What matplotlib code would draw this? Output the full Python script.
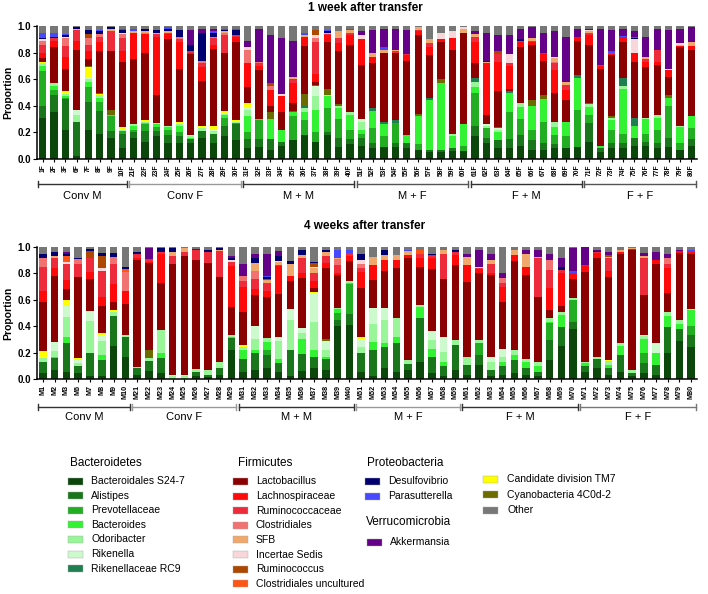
import numpy as np
import matplotlib
matplotlib.use('Agg')
import matplotlib.pyplot as plt
from matplotlib.patches import Rectangle
import matplotlib.transforms as mtransforms

plt.rcParams['font.family'] = ['Liberation Sans', 'DejaVu Sans']

# ---- sample labels ----
week1_labels = ['1F', '2F', '3F', '6F', '7F', '8F', '9F', '10F',
                '21F', '22F', '23F', '24F', '25F', '26F', '27F', '28F', '29F', '30F',
                '31F', '32F', '33F', '34F', '35F', '36F', '37F', '38F', '39F', '40F',
                '51F', '52F', '53F', '54F', '55F', '56F', '57F', '58F', '59F', '60F',
                '61F', '62F', '63F', '64F', '65F', '66F', '67F', '68F', '69F', '70F',
                '71F', '72F', '73F', '74F', '75F', '76F', '77F', '78F', '79F', '80F']
week4_labels = ['M1', 'M2', 'M3', 'M6', 'M7', 'M8', 'M9', 'M10',
                'M21', 'M22', 'M23', 'M24', 'M25', 'M26', 'M27', 'M28', 'M29',
                'M31', 'M32', 'M33', 'M34', 'M35', 'M36', 'M37', 'M38', 'M39', 'M40',
                'M51', 'M52', 'M53', 'M54', 'M55', 'M56', 'M57', 'M58', 'M59',
                'M61', 'M62', 'M63', 'M64', 'M65', 'M66', 'M67', 'M68', 'M69', 'M70',
                'M71', 'M72', 'M73', 'M74', 'M75', 'M76', 'M77', 'M78', 'M79', 'M80']

group_names = ['Conv M', 'Conv F', 'M + M', 'M + F', 'F + M', 'F + F']
week1_group_sizes = [8, 10, 10, 10, 10, 10]
week4_group_sizes = [8, 9, 10, 9, 10, 10]

# ---- taxa (stack order, bottom to top) ----
taxa = ['Bacteroidales S24-7', 'Alistipes', 'Prevotellaceae', 'Bacteroides', 'Odoribacter',
        'Rikenella', 'Rikenellaceae RC9', 'Candidate division TM7', 'Cyanobacteria 4C0d-2',
        'Lactobacillus', 'Lachnospiraceae', 'Ruminococcaceae', 'Clostridiales', 'SFB',
        'Incertae Sedis', 'Ruminococcus', 'Clostridiales uncultured', 'Desulfovibrio',
        'Parasutterella', 'Akkermansia', 'Other']
colors = ['#0b460b', '#1a761a', '#22ad22', '#33f233', '#98f598', '#cdfacd', '#1f7f50',
          '#ffff00', '#6b6b00',
          '#8b0000', '#ff0a0a', '#ee2b3b', '#f27272', '#f0a86c', '#f8d6da', '#ae4800', '#ff5414',
          '#000070', '#4848ff', '#650088', '#777777']

# ---- 1 week after transfer ----
w1_s24 = [.31, .35, .22, .02, .22, .19, .16, .08,
          .16, .13, .17, .12, .12, .12, .16, .12, .17, .14,
          .08, .09, .07, .10, .14, .18, .13, .18, .09, .11,
          .10, .08, .09, .09, .08, .07, .05, .05, .06, .06,
          .17, .12, .08, .08, .10, .07, .07, .08, .08, .09,
          .13, .05, .08, .08, .10, .10, .08, .09, .07, .10]
w1_ali = [.09, .13, .23, .26, .21, .17, .05, .11,
          .04, .08, .04, .06, .05, .03, .05, .07, .08, .12,
          .07, .06, .08, .03, 0, 0, 0, .02, .07, .04,
          .06, .04, 0, .03, .04, 0, .02, .02, .02, 0,
          .08, .04, .06, .07, .08, .07, .05, .03, 0, 0,
          .14, .03, .04, .04, .06, .03, .04, .07, 0, .05]
w1_prev = [.26, .04, .01, 0, .11, .07, .11, .02,
           .02, .05, .03, .04, .03, 0, 0, 0, .06, .01,
           .05, .14, 0, 0, .18, .11, .07, .18, .14, .07,
           .03, .11, .08, .15, 0, .04, 0, 0, 0, .04,
           .25, .07, 0, .20, .12, .08, .16, .07, .09, .28,
           .06, 0, .10, .07, 0, .06, .10, .24, .05, .08]
w1_bact = [.04, .03, .01, 0, .04, .03, .01, 0,
           .03, .01, .02, .02, .05, .01, 0, 0, .02, 0,
           .12, .01, .15, .09, .03, .06, .17, .09, .08, .11,
           .03, .13, .09, 0, .06, .21, .37, .50, .09, .16,
           .04, 0, .06, .15, .09, .18, .17, .06, .11, .24,
           .06, .02, .07, .34, .09, .11, .09, .06, .12, .09]
w1_odo = [.02, .02, .02, .05, .02, .02, 0, .01,
          .01, .01, .01, .01, .01, .01, .02, .02, .01, .01,
          .05, 0, 0, 0, 0, .03, .10, .01, .02, .02,
          .06, 0, 0, 0, 0, 0, 0, 0, .02, 0,
          .04, .02, .02, 0, .03, 0, 0, .04, 0, 0,
          .02, 0, .02, .02, 0, .01, .02, 0, .01, .005]
w1_rik = [0, 0, 0, .04, .01, 0, 0, 0,
          0, 0, 0, 0, .01, 0, .01, .01, 0, 0,
          .02, 0, 0, 0, 0, 0, .08, 0, 0, 0,
          .02, 0, 0, 0, 0, 0, 0, 0, 0, 0,
          0, .01, .01, 0, 0, 0, 0, 0, 0, 0,
          0, 0, 0, 0, 0, 0, 0, 0, 0, 0]
w1_rc9 = [0, 0, 0, 0, 0, 0, 0, 0,
          0, 0, 0, 0, 0, 0, 0, 0, 0, 0,
          0, 0, 0, 0, .01, .02, .01, 0, 0, 0,
          0, .02, .02, .02, 0, 0, .02, 0, 0, 0,
          .03, 0, 0, .01, 0, 0, 0, 0, 0, .02,
          0, 0, 0, .06, .06, 0, 0, 0, 0, 0]
w1_tm7 = [.01, 0, .02, 0, .08, .01, 0, .02,
          0, .01, 0, 0, .01, .01, .01, .03, .02, .01,
          .03, 0, 0, 0, 0, 0, 0, 0, 0, 0,
          0, 0, 0, 0, 0, 0, 0, 0, 0, 0,
          0, 0, 0, 0, 0, 0, 0, 0, 0, 0,
          0, 0, 0, 0, 0, 0, 0, 0, 0, 0]
w1_cyano = [0, 0, 0, 0, .01, .01, .04, 0,
            0, 0, 0, 0, 0, 0, 0, 0, 0, 0,
            0, 0, .05, 0, 0, .09, 0, .05, .01, 0,
            0, 0, 0, 0, 0, .02, 0, .03, 0, 0,
            0, 0, .01, 0, 0, .04, .03, 0, 0, 0,
            .01, 0, .01, 0, 0, 0, 0, .02, 0, 0]
w1_lacto = [.03, .27, .17, .45, .05, .31, .44, .49,
            .49, .51, .21, .65, .40, .61, .34, .58, .44, .59,
            .12, .37, .05, .13, .06, .36, .02, .35, .40, .51,
            .41, .34, .52, .51, .56, .59, .32, .28, .63, .69,
            .11, .07, .27, .02, .42, .42, .26, .22, .165, .26,
            .44, .58, .46, .275, .42, .38, .38, .14, .59, .495]
w1_lachno = [.04, .05, .09, .07, .06, .07, 0, .08,
             .20, .14, .44, .04, .20, .01, .10, .03, 0, .04,
             .18, .03, .12, .12, .15, .07, .06, .05, .06, .07,
             .19, .05, 0, 0, .04, .03, .06, .02, .09, 0,
             .16, .39, .22, .17, .04, .02, .05, .17, .075, .025,
             .07, .02, .01, .035, .07, .04, .02, .05, .01, .03]
w1_rumino = [.06, .02, .08, .08, .05, .04, .15, .10,
             0, 0, .02, .01, .02, .01, .03, .05, .13, .01,
             0, .02, 0, 0, .03, 0, .24, .01, .04, .02,
             0, 0, 0, .01, .01, .01, .03, 0, 0, 0,
             .04, 0, .06, .02, .01, .01, 0, .05, .035, 0,
             .02, .01, .01, 0, 0, .02, .09, 0, 0, 0]
w1_clos = [.03, 0, .06, 0, .05, .02, 0, .03,
           0, .01, 0, 0, .02, 0, .02, .01, .02, 0,
           .10, .01, .03, 0, 0, 0, .03, 0, 0, 0,
           0, 0, 0, 0, 0, 0, 0, 0, 0, 0,
           0, 0, 0, 0, 0, 0, 0, .01, 0, 0,
           0, 0, 0, 0, 0, 0, 0, 0, 0, 0]
w1_sfb = [0, 0, 0, .01, 0, 0, .02, 0,
          .01, .01, .01, .01, 0, 0, 0, 0, .01, 0,
          0, 0, 0, 0, .02, .01, 0, .01, .05, .02,
          0, .03, .02, .01, 0, .02, .03, 0, 0, .03,
          .02, .01, 0, 0, 0, .02, 0, .03, .025, 0,
          .01, 0, 0, 0, 0, .02, 0, 0, .01, .03]
w1_inc = [.01, 0, .01, 0, 0, 0, 0, .01,
          0, 0, 0, 0, 0, 0, 0, 0, 0, 0,
          .02, 0, 0, .02, 0, 0, .02, 0, 0, 0,
          .03, 0, 0, 0, 0, 0, 0, .05, .05, .01,
          0, 0, 0, .07, 0, 0, 0, .01, 0, 0,
          .01, 0, 0, 0, .10, 0, 0, .01, .01, 0]
w1_rumcoc = [0, 0, 0, 0, .03, 0, 0, 0,
             0, 0, 0, 0, 0, 0, 0, 0, 0, 0,
             0, 0, .02, 0, 0, 0, .04, 0, 0, 0,
             0, 0, 0, 0, 0, 0, 0, 0, 0, 0,
             0, 0, .02, 0, 0, 0, 0, 0, 0, 0,
             0, 0, 0, 0, 0, 0, 0, 0, 0, 0]
w1_closu = [0] * 58
w1_desulfo = [.01, .01, .01, .01, .03, .02, .01, .02,
              0, .02, .02, .02, .05, .05, .21, .03, .01, .04,
              0, 0, 0, 0, 0, 0, 0, .01, 0, 0,
              0, 0, 0, 0, 0, 0, 0, 0, 0, 0,
              0, .01, 0, 0, .01, 0, 0, 0, 0, 0,
              0, 0, 0, 0, .01, 0, 0, 0, 0, 0]
w1_parasut = [.04, .03, .01, 0, 0, .01, 0, .01,
              .02, 0, 0, .01, 0, 0, 0, .01, .01, .01,
              0, 0, 0, 0, 0, .02, 0, .01, 0, .01,
              0, 0, .02, 0, 0, 0, 0, 0, 0, 0,
              0, 0, 0, 0, 0, 0, .01, 0, 0, 0,
              0, 0, .01, .01, .01, 0, 0, 0, 0, 0]
w1_akk = [0, 0, 0, 0, 0, 0, 0, 0,
          0, 0, 0, 0, 0, .11, .03, .02, 0, 0,
          .05, .25, .36, .42, .27, 0, 0, 0, 0, 0,
          .03, .17, .14, .16, .18, 0, 0, 0, 0, 0,
          .02, .21, .12, .14, .08, .08, .15, .19, .34, .06,
          .01, .27, .16, .055, .04, .15, .16, .29, .11, .115]
w1_other = [.05, .05, .06, .01, .03, .03, .01, .02,
            .02, .02, .03, .01, .03, .03, .02, .02, .02, .02,
            .11, .02, .07, .09, .11, .05, .03, .03, .04, .02,
            .04, .03, .02, .02, .03, .01, .10, .05, .04, .01,
            .04, .05, .07, .07, .02, .01, .05, .04, .08, .025,
            .02, .02, .03, .02, .04, .08, .02, .03, .02, .005]

# ---- 4 weeks after transfer ----
w4_s24 = [.045, .07, .055, .045, .02, .02, .25, .17,
          .03, .06, .045, 0, 0, .02, .015, .03, .22,
          .05, .07, .08, .05, .02, .06, .08, .07, .40, .41,
          .055, .02, .08, .055, .07, .13, .045, .02, .07,
          .03, .105, .02, .03, .045, .03, .02, .145, .25, .38,
          .05, .08, .03, .055, .02, .045, .03, .20, .29, .24]
w4_ali = [.085, .09, .215, .05, .18, .125, .23, .145,
          .05, .08, .115, 0, 0, .03, .015, .05, .09,
          .10, .13, .10, .07, .20, .13, .09, .08, .05, .085,
          .14, .20, .16, .22, .045, .33, .125, .075, .19,
          .075, .075, .05, .065, .10, .05, .035, .15, .145, .05,
          .045, .07, .05, .125, .025, .075, .075, .195, .09, .095]
w4_prev = [0, 0, 0, 0, 0, 0, 0, 0,
           0, 0, 0, 0, 0, 0, 0, 0, 0,
           0, 0, .04, 0, 0, 0, 0, 0, .05, .225,
           0, 0, 0, 0, 0, 0, 0, 0, 0,
           0, .09, 0, 0, 0, 0, 0, .13, 0, .17,
           0, 0, 0, 0, 0, .08, 0, 0, 0, .07]
w4_bact = [0, .01, .05, 0, 0, .035, 0, 0,
           0, 0, .035, 0, 0, 0, 0, 0, .01,
           .07, .02, .06, .03, 0, .11, .05, .02, .03, .01,
           0, .06, .03, .045, 0, .085, .06, .035, 0,
           0, 0, 0, .035, .035, .05, .045, .01, .09, 0,
           .025, 0, .025, .07, 0, .10, .09, .08, .04, .115]
w4_odo = [.03, .04, .15, .03, .24, .105, .03, .015,
          .01, .02, .18, .02, .02, .025, .04, .05, .01,
          .02, .08, .03, .14, .225, .05, .21, .05, .01, .01,
          .05, .14, .175, .14, .03, .015, .065, .075, .035,
          .065, .025, .06, .04, .04, .025, .03, .025, .02, .01,
          .01, .02, .035, .02, .025, .025, 0, .035, .025, .01]
w4_rik = [.01, .07, .08, .02, .07, .05, 0, 0,
          0, 0, 0, 0, 0, 0, 0, 0, 0,
          0, .10, 0, .02, .085, .035, .22, .07, 0, 0,
          .055, .115, .09, 0, 0, 0, .07, .115, 0,
          0, 0, .04, .055, 0, 0, 0, 0, 0, 0,
          0, 0, 0, 0, 0, 0, .08, 0, 0, 0]
w4_rc9 = [0] * 56
w4_tm7 = [.04, 0, .05, .015, .005, .01, .01, 0,
          0, 0, 0, .01, .01, 0, 0, 0, 0,
          .02, 0, 0, .01, 0, 0, .01, 0, 0, 0,
          .02, 0, 0, 0, 0, 0, 0, 0, 0,
          0, 0, 0, .005, 0, 0, 0, 0, 0, 0,
          0, 0, .005, 0, 0, .01, 0, 0, 0, 0]
w4_cyano = [0, 0, 0, 0, 0, 0, 0, 0,
            0, .06, 0, 0, 0, 0, 0, 0, 0,
            0, 0, 0, 0, 0, 0, 0, .01, 0, 0,
            0, 0, 0, 0, 0, 0, 0, 0, 0,
            0, 0, 0, 0, 0, 0, 0, 0, 0, 0,
            0, 0, 0, 0, 0, 0, 0, 0, 0, 0]
w4_lacto = [.37, .50, .08, .61, .245, .205, .06, .24,
            .81, .66, .355, .84, .90, .825, .81, .64, .215,
            .25, .235, .31, .33, .215, .38, .03, .54, .25, .155,
            .37, .215, .28, .38, .77, .29, .465, .44, .57,
            .565, .505, .62, .355, .675, .635, .495, .06, .05, .15,
            .68, .75, .63, .68, .905, .30, .60, .145, .51, .415]
w4_lachno = [.09, .06, .07, 0, .05, .075, .14, .10,
             .02, .01, .215, 0, 0, 0, 0, 0, .31,
             .19, .05, .05, .21, .035, .04, .05, .04, .02, .035,
             .12, .11, .085, .065, .025, .07, .09, 0, .075,
             .125, .03, .01, .115, .045, .06, 0, .17, .25, .04,
             .045, .035, .04, .01, .01, 0, .025, .185, .015, .02]
w4_rumino = [.18, .08, .12, .10, .11, .195, .15, 0,
             .03, .02, .015, .06, .03, .075, .085, .20, .03,
             .04, .07, .06, .01, 0, .11, .06, .05, .06, .025,
             .03, 0, 0, 0, 0, .03, .01, .19, .025,
             0, .01, .075, .03, 0, 0, .29, .135, .02, 0,
             0, .01, .10, 0, 0, .28, 0, .035, 0, 0]
w4_clos = [.07, 0, 0, .04, 0, 0, .055, .14,
           0, 0, 0, 0, 0, 0, 0, 0, 0,
           .04, .065, 0, 0, 0, 0, 0, 0, .04, 0,
           .035, 0, 0, 0, 0, 0, 0, 0, 0,
           0, 0, 0, .035, 0, 0, 0, .075, 0, 0,
           0, 0, 0, 0, 0, 0, 0, .04, 0, 0]
w4_sfb = [0, .01, 0, 0, 0, 0, 0, 0,
          0, 0, 0, .03, .03, 0, 0, .01, .005,
          0, .06, .02, .02, .09, .025, .04, .035, .01, 0,
          0, .065, .04, .035, .03, 0, 0, .025, 0,
          .065, 0, .025, 0, .035, .095, .01, 0, 0, 0,
          0, 0, .01, .015, .01, .02, 0, 0, 0, 0]
w4_inc = [0, 0, .02, 0, 0, .02, 0, 0,
          0, 0, 0, 0, 0, 0, 0, 0, .01,
          0, 0, 0, .01, 0, 0, .01, 0, 0, 0,
          .025, 0, 0, 0, 0, 0, 0, 0, 0,
          0, .01, 0, 0, 0, 0, 0, 0, 0, 0,
          0, 0, 0, 0, 0, 0, 0, 0, 0, 0]
w4_rumcoc = [0, 0, 0, 0, .05, .09, 0, 0,
             0, 0, 0, 0, 0, 0, 0, 0, 0,
             0, 0, .01, 0, 0, 0, .03, 0, 0, 0,
             0, 0, 0, 0, 0, 0, .01, 0, 0,
             0, 0, 0, 0, 0, 0, 0, 0, 0, 0,
             0, 0, .015, 0, 0, 0, 0, 0, 0, 0]
w4_closu = [0, 0, .04, 0, 0, 0, 0, .02,
            0, 0, 0, 0, 0, 0, 0, 0, 0,
            0, 0, 0, 0, 0, 0, 0, 0, 0, 0,
            0, 0, 0, 0, 0, .025, 0, 0, 0,
            0, 0, 0, 0, 0, 0, 0, 0, 0, 0,
            0, 0, 0, 0, 0, 0, 0, 0, 0, 0]
w4_desulfo = [.03, .03, .02, .01, .015, .025, .03, .02,
              .01, 0, .035, .03, .005, 0, .01, .01, .02,
              0, .035, .01, .035, .025, .035, .01, .01, 0, 0,
              .05, 0, .035, 0, 0, 0, .01, 0, .01,
              0, 0, 0, 0, 0, 0, 0, 0, .02, .005,
              0, .005, 0, 0, 0, 0, 0, 0, 0, 0]
w4_parasut = [0, 0, 0, 0, 0, 0, 0, 0,
              0, 0, 0, 0, 0, 0, 0, 0, 0,
              0, 0, .01, 0, 0, 0, 0, 0, .06, .02,
              0, 0, 0, 0, .01, 0, 0, 0, 0,
              0, 0, 0, 0, 0, 0, 0, 0, 0, .01,
              .005, 0, 0, 0, 0, 0, 0, 0, 0, .01]
w4_akk = [0, 0, .01, 0, 0, 0, 0, 0,
          0, .08, 0, 0, 0, .01, 0, 0, .01,
          .09, .035, .17, .04, 0, 0, 0, 0, 0, 0,
          0, 0, 0, 0, 0, 0, 0, 0, 0,
          .025, .13, .05, .035, 0, .035, .055, .05, .07, .175,
          .14, .01, .02, 0, 0, .02, .065, .03, .01, 0]
w4_other = [.05, .04, .04, .08, .015, .045, .045, .15,
            .04, .01, .005, .01, .005, .015, .025, .01, .07,
            .13, .05, .05, .03, .105, .025, .11, .025, .025, .025,
            .05, .075, .025, .06, .02, .025, .05, .025, .025,
            .05, .02, .05, .20, .025, .02, .02, .05, .085, .01,
            0, .02, .04, .025, .005, .045, .035, .055, .02, .025]

week1 = [w1_s24, w1_ali, w1_prev, w1_bact, w1_odo, w1_rik, w1_rc9, w1_tm7, w1_cyano,
         w1_lacto, w1_lachno, w1_rumino, w1_clos, w1_sfb, w1_inc, w1_rumcoc, w1_closu,
         w1_desulfo, w1_parasut, w1_akk, w1_other]
week4 = [w4_s24, w4_ali, w4_prev, w4_bact, w4_odo, w4_rik, w4_rc9, w4_tm7, w4_cyano,
         w4_lacto, w4_lachno, w4_rumino, w4_clos, w4_sfb, w4_inc, w4_rumcoc, w4_closu,
         w4_desulfo, w4_parasut, w4_akk, w4_other]

W, H = 708, 594


def fx(x):
    return x / W


def fy(y):
    return 1 - y / H


def stacked_panel(ax, data, labels, sizes, title, title_y, tick_fs, br_y, lab_y, br_colors):
    vals = np.array(data, dtype=float)
    vals = vals / vals.sum(axis=0)  # proportions per sample
    x = np.arange(len(labels))
    bottom = np.zeros(len(labels))
    for row, c in zip(vals, colors):
        ax.bar(x, row, bottom=bottom, width=0.64, color=c, linewidth=0)
        bottom += row
    ax.set_xlim(-0.5, len(labels) - 0.5)
    ax.set_ylim(0, 1.0)
    ax.set_yticks([0, 0.2, 0.4, 0.6, 0.8, 1.0])
    ax.set_yticklabels(['0.0', '0.2', '0.4', '0.6', '0.8', '1.0'], fontsize=7, fontweight='bold')
    ax.set_xticks(x)
    ax.set_xticklabels(labels, rotation=90, fontsize=tick_fs, fontweight='bold')
    ax.tick_params(axis='x', length=2.5, width=0.8, pad=1.5)
    ax.tick_params(axis='y', length=3, width=0.8, pad=1.5)
    ax.spines['top'].set_visible(False)
    ax.spines['right'].set_visible(False)
    ax.spines['left'].set_linewidth(1.1)
    ax.spines['bottom'].set_linewidth(1.1)
    ax.set_ylabel('Proportion', fontsize=7.5, fontweight='bold', labelpad=3)
    fig.text(fx(365), fy(title_y), title, fontsize=8.5, fontweight='bold', ha='center', va='center')

    # group brackets under the tick labels
    trans = mtransforms.blended_transform_factory(ax.transData, ax.transAxes)
    start = 0
    for name, n, bc in zip(group_names, sizes, br_colors):
        s, e = start - 0.4, start + n - 1 + 0.4
        ax.plot([s, e], [br_y, br_y], color=bc, lw=1, transform=trans, clip_on=False)
        for xe in (s, e):
            ax.plot([xe, xe], [br_y - 0.025, br_y + 0.025], color=bc, lw=1,
                    transform=trans, clip_on=False)
        ax.text((s + e) / 2, lab_y, name, fontsize=8, ha='center', va='center', transform=trans)
        start += n


fig = plt.figure(figsize=(7.08, 5.94), dpi=100)
ax1 = fig.add_axes([fx(37), fy(159), fx(660), 133 / H])
ax2 = fig.add_axes([fx(37), fy(379), fx(660), 132 / H])

stacked_panel(ax1, week1, week1_labels, week1_group_sizes, '1 week after transfer', 8,
              4.8, -0.188, -0.275,
              ['#333333', '#999999', '#333333', '#555555', '#333333', '#555555'])
stacked_panel(ax2, week4, week4_labels, week4_group_sizes, '4 weeks after transfer', 226,
              5.2, -0.212, -0.29,
              ['#333333', '#999999', '#333333', '#999999', '#333333', '#777777'])

# ---- legend built by hand ----
def legend_item(x, y, name, color, pw=15, ph=7, tx=None):
    fig.add_artist(Rectangle((fx(x), fy(y + ph / 2)), pw / W, ph / H, transform=fig.transFigure,
                             facecolor=color, edgecolor='#aaaaaa', linewidth=0.3))
    fig.text(fx(tx), fy(y), name, fontsize=7.5, ha='left', va='center')


cmap = dict(zip(taxa, colors))
fig.text(fx(70), fy(463), 'Bacteroidetes', fontsize=8.5, ha='left', va='center')
for i, t in enumerate(taxa[:7]):
    legend_item(68, 481 + i * 14.6, t, cmap[t], tx=91)

fig.text(fx(238), fy(463), 'Firmicutes', fontsize=8.5, ha='left', va='center')
for i, t in enumerate(taxa[9:17]):
    legend_item(233, 481.5 + i * 14.6, t, cmap[t], tx=256)

fig.text(fx(367), fy(463), 'Proteobacteria', fontsize=8.5, ha='left', va='center')
for i, t in enumerate(['Desulfovibrio', 'Parasutterella']):
    legend_item(365, 481 + i * 15, t, cmap[t], tx=388)
fig.text(fx(366), fy(522), 'Verrucomicrobia', fontsize=8.5, ha='left', va='center')
legend_item(367, 542, 'Akkermansia', cmap['Akkermansia'], tx=390)

for i, t in enumerate(['Candidate division TM7', 'Cyanobacteria 4C0d-2', 'Other']):
    legend_item(483, 479 + i * 15.5, t, cmap[t], tx=507)

fig.savefig('out.png', dpi=100)
